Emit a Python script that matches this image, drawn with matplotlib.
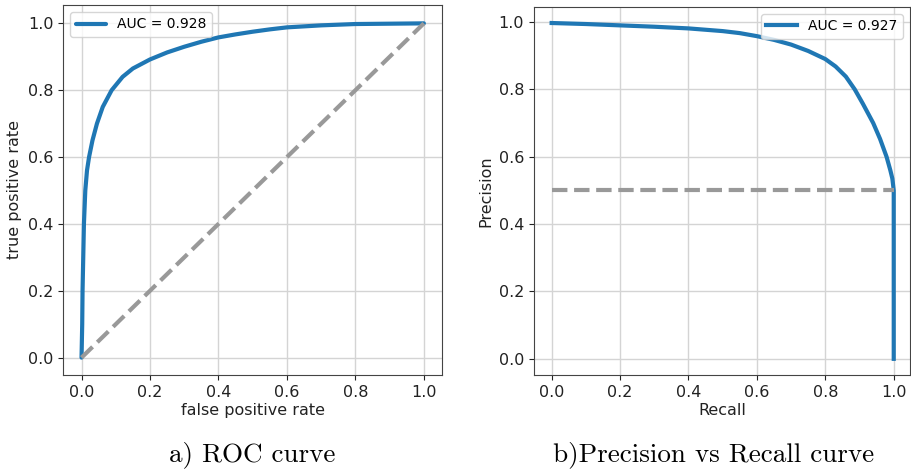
import matplotlib
matplotlib.use("Agg")
import matplotlib.pyplot as plt

# ROC curve
roc_fpr = [0.0, 0.002, 0.003, 0.005, 0.007, 0.011, 0.016, 0.022, 0.032, 0.045, 0.062,
           0.088, 0.12, 0.15, 0.2, 0.25, 0.3, 0.35, 0.4, 0.45, 0.5, 0.55, 0.6, 0.7,
           0.8, 0.9, 1.0]
roc_tpr = [0.0, 0.1, 0.2, 0.3, 0.4, 0.5, 0.56, 0.6, 0.65, 0.7, 0.75,
           0.8, 0.84, 0.865, 0.892, 0.913, 0.93, 0.945, 0.958, 0.967, 0.975, 0.982,
           0.988, 0.994, 0.998, 0.999, 1.0]
roc_auc = 0.928

# precision / recall curve
pr_recall = [0.0, 0.1, 0.2, 0.3, 0.4, 0.5, 0.55, 0.6, 0.65, 0.7, 0.75, 0.8, 0.83, 0.86,
             0.886, 0.91, 0.94, 0.96, 0.979, 0.99, 0.996, 1.0, 1.0]
pr_precision = [0.997, 0.994, 0.99, 0.986, 0.981, 0.973, 0.967, 0.958, 0.947, 0.933,
                0.914, 0.89, 0.868, 0.838, 0.80, 0.757, 0.70, 0.653, 0.60, 0.56,
                0.535, 0.5, 0.0]
pr_auc = 0.927
pr_baseline = 0.5

captions = ["a) ROC curve", "b)Precision vs Recall curve"]

blue = "#1f77b4"
dash_col = "#999999"

fig = plt.figure(figsize=(9.11, 4.69), dpi=100)
ax1 = fig.add_axes([0.0692, 0.2004, 0.416, 0.789])
ax2 = fig.add_axes([0.586, 0.2004, 0.4127, 0.785])

for ax in (ax1, ax2):
    ax.grid(True, color="#d4d4d4", lw=1)
    ax.set_axisbelow(True)
    ax.tick_params(labelsize=11.5, colors="#222222")
    ax.set_xticks([0, 0.2, 0.4, 0.6, 0.8, 1.0])
    ax.set_yticks([0, 0.2, 0.4, 0.6, 0.8, 1.0])
    for s in ax.spines.values():
        s.set_color("#444444")

ax1.plot(roc_fpr, roc_tpr, color=blue, lw=3, label="AUC = %.3f" % roc_auc,
         solid_joinstyle="round", solid_capstyle="round")
ax1.plot([0, 1], [0, 1], "--", color=dash_col, lw=3)
ax1.set_xlim(-0.054, 1.053)
ax1.set_ylim(-0.052, 1.055)
ax1.set_xlabel("false positive rate", fontsize=11.5, color="#222222", labelpad=2)
ax1.set_ylabel("true positive rate", fontsize=11.5, color="#222222")
ax1.legend(loc="upper left", fontsize=10, handlelength=2.2)

ax2.plot(pr_recall, pr_precision, color=blue, lw=3, label="AUC = %.3f" % pr_auc,
         solid_joinstyle="round")
ax2.plot([0, 1], [pr_baseline, pr_baseline], "--", color=dash_col, lw=3)
ax2.set_xlim(-0.052, 1.047)
ax2.set_ylim(-0.048, 1.045)
ax2.set_xlabel("Recall", fontsize=11.5, color="#222222", labelpad=2)
ax2.set_ylabel("Precision", fontsize=11.5, color="#222222")
ax2.legend(loc="upper right", fontsize=10, handlelength=2.2)

fig.text(252 / 911, 1 - 461 / 469, captions[0], family="cmr10", fontsize=19.5,
         ha="center", va="baseline")
fig.text(714 / 911, 1 - 461 / 469, captions[1], family="cmr10", fontsize=19.5,
         ha="center", va="baseline")

fig.savefig("out.png", dpi=100)
